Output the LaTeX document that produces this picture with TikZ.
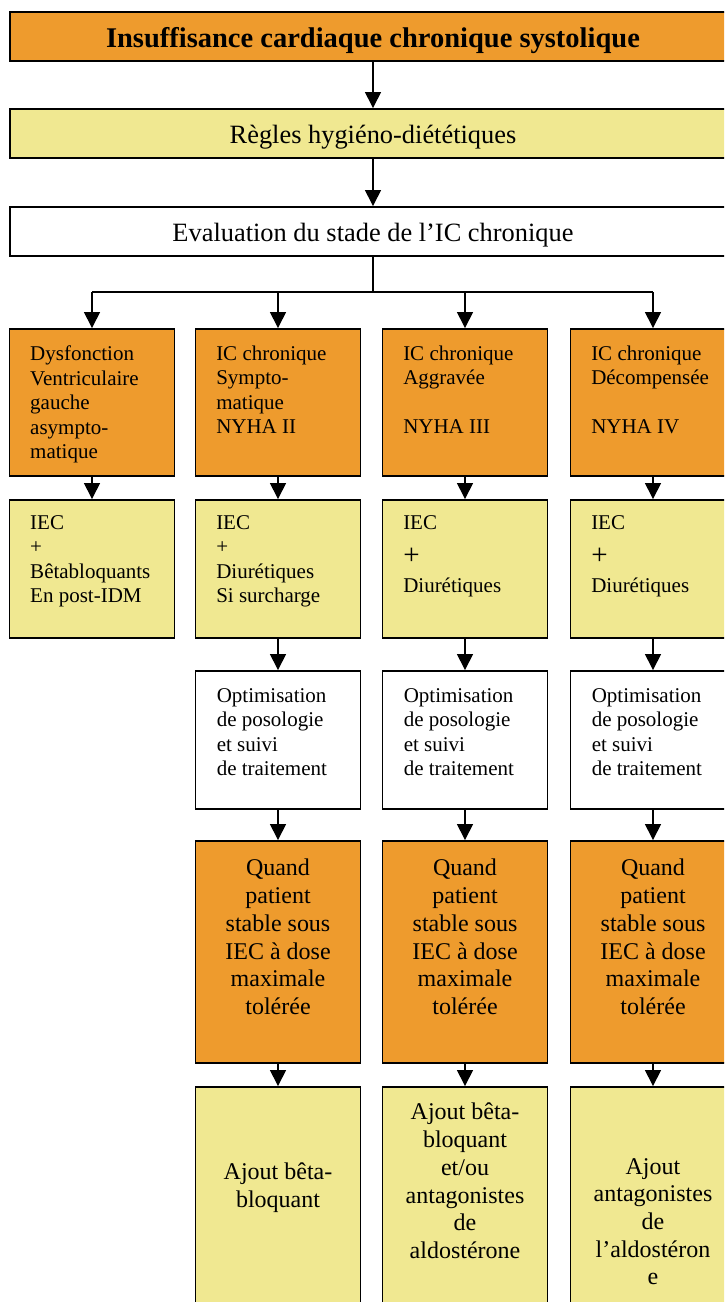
\documentclass[tikz,border=0pt]{standalone}
\usepackage{fontspec}
\setmainfont{Liberation Serif}
\usepackage{tikz}
\usetikzlibrary{arrows.meta, positioning}
\definecolor{icorange}{RGB}{238,155,45}
\definecolor{icyellow}{RGB}{240,232,145}
\tikzstyle{wide} = [draw=black, line width=1.9pt, minimum width=726pt, minimum height=49pt, inner sep=0]
\tikzstyle{cell} = [draw=black, line width=1.9pt, minimum width=165pt, inner sep=0]
\tikzstyle{lefttext} = [inner sep=0, align=left, font=\fontsize{21}{24.5}\selectfont]
\tikzstyle{midtext} = [inner sep=0, align=center, font=\fontsize{24}{27.7}\selectfont]
\tikzstyle{link} = [line width=1.4pt, -{Triangle[width=16pt, length=16pt]}]
\newcommand{\bigplus}{{\fontsize{29}{29}\selectfont +}}

\begin{document}
\begin{tikzpicture}[x=1pt, y=-1pt]
				\useasboundingbox (0, 0) rectangle (724, 1302);
				\clip (0, 0) rectangle (724, 1302);

				% top of the chart
				\node (Title) [wide, fill=icorange] at (373, 36.5) {};
				\node (TitleText) [font=\fontsize{28.5}{30}\selectfont\bfseries] at (373, 40.5) {Insuffisance cardiaque chronique systolique};
				\node (Rules) [wide, fill=icyellow] at (373, 133.5) {};
				\node (RulesText) [font=\fontsize{26.4}{28}\selectfont] at (373, 137.5) {Règles hygiéno-diététiques};
				\draw [link] (Title) -- (Rules);
				\node (Eval) [wide, fill=white] at (373, 231.5) {};
				\node (EvalText) [font=\fontsize{26.4}{28}\selectfont] at (373, 235) {Evaluation du stade de l’IC chronique};
				\draw [link] (Rules) -- (Eval);

				\coordinate (Split) at (373, 292);
				\draw [line width=1.4pt] (Eval) -- (Split);
				\coordinate (AsymIn) at (92, 292);
				\coordinate (SympIn) at (278, 292);
				\coordinate (AggrIn) at (465, 292);
				\coordinate (DecoIn) at (653, 292);
				\draw [line width=1.4pt] (AsymIn) -- (DecoIn);

				% asymptomatic
				\node (Asym) [cell, fill=icorange, minimum height=147pt] at (92, 402.5) {};
				\node (AsymText) [lefttext, below right=17.5pt and 21.5pt of Asym.north west] {Dysfonction\\Ventriculaire\\gauche\\asympto-\\matique};
				\draw [link] (AsymIn) -- (Asym);
				\node (AsymTreat) [cell, fill=icyellow, minimum height=138pt] at (92, 569) {};
				\node (AsymTreatText) [lefttext, below right=16pt and 21.5pt of AsymTreat.north west] {IEC\\+\\Bêtabloquants\\En post-IDM};
				\draw [link] (Asym) -- (AsymTreat);

				% symptomatic
				\node (Symp) [cell, fill=icorange, minimum height=147pt] at (278, 402.5) {};
				\node (SympText) [lefttext, below right=17.5pt and 21.5pt of Symp.north west] {IC chronique\\Sympto-\\matique\\NYHA II};
				\draw [link] (SympIn) -- (Symp);
				\node (SympTreat) [cell, fill=icyellow, minimum height=138pt] at (278, 569) {};
				\node (SympTreatText) [lefttext, below right=16pt and 21.5pt of SympTreat.north west] {IEC\\+\\Diurétiques\\Si surcharge};
				\draw [link] (Symp) -- (SympTreat);
				\node (SympOptim) [cell, fill=white, minimum height=138pt] at (278, 740) {};
				\node (SympOptimText) [lefttext, below right=18pt and 22pt of SympOptim.north west] {Optimisation\\de posologie\\et suivi\\de traitement};
				\draw [link] (SympTreat) -- (SympOptim);
				\node (SympStable) [cell, fill=icorange, minimum height=222pt] at (278, 952) {};
				\node (SympStableText) [midtext, below=19pt of SympStable.north] {Quand\\patient\\stable sous\\IEC à dose\\maximale\\tolérée};
				\draw [link] (SympOptim) -- (SympStable);
				\node (SympAdd) [cell, fill=icyellow, minimum height=260pt] at (278, 1217) {};
				\node (SympAddText) [midtext, below=77pt of SympAdd.north] {Ajout bêta-\\bloquant};
				\draw [link] (SympStable) -- (SympAdd);

				% aggravated
				\node (Aggr) [cell, fill=icorange, minimum height=147pt] at (465, 402.5) {};
				\node (AggrText) [lefttext, below right=17.5pt and 21.5pt of Aggr.north west] {IC chronique\\Aggravée\\[24.5pt]NYHA III};
				\draw [link] (AggrIn) -- (Aggr);
				\node (AggrTreat) [cell, fill=icyellow, minimum height=138pt] at (465, 569) {};
				\node (AggrTreatText) [lefttext, below right=16pt and 21.5pt of AggrTreat.north west] {IEC\\[11pt]\bigplus\\[3pt]Diurétiques};
				\draw [link] (Aggr) -- (AggrTreat);
				\node (AggrOptim) [cell, fill=white, minimum height=138pt] at (465, 740) {};
				\node (AggrOptimText) [lefttext, below right=18pt and 22pt of AggrOptim.north west] {Optimisation\\de posologie\\et suivi\\de traitement};
				\draw [link] (AggrTreat) -- (AggrOptim);
				\node (AggrStable) [cell, fill=icorange, minimum height=222pt] at (465, 952) {};
				\node (AggrStableText) [midtext, below=19pt of AggrStable.north] {Quand\\patient\\stable sous\\IEC à dose\\maximale\\tolérée};
				\draw [link] (AggrOptim) -- (AggrStable);
				\node (AggrAdd) [cell, fill=icyellow, minimum height=260pt] at (465, 1217) {};
				\node (AggrAddText) [midtext, below=17pt of AggrAdd.north] {Ajout bêta-\\bloquant\\et/ou\\antagonistes\\de\\aldostérone};
				\draw [link] (AggrStable) -- (AggrAdd);

				% decompensated
				\node (Deco) [cell, fill=icorange, minimum height=147pt] at (653, 402.5) {};
				\node (DecoText) [lefttext, below right=17.5pt and 21.5pt of Deco.north west] {IC chronique\\Décompensée\\[24.5pt]NYHA IV};
				\draw [link] (DecoIn) -- (Deco);
				\node (DecoTreat) [cell, fill=icyellow, minimum height=138pt] at (653, 569) {};
				\node (DecoTreatText) [lefttext, below right=16pt and 21.5pt of DecoTreat.north west] {IEC\\[11pt]\bigplus\\[3pt]Diurétiques};
				\draw [link] (Deco) -- (DecoTreat);
				\node (DecoOptim) [cell, fill=white, minimum height=138pt] at (653, 740) {};
				\node (DecoOptimText) [lefttext, below right=18pt and 22pt of DecoOptim.north west] {Optimisation\\de posologie\\et suivi\\de traitement};
				\draw [link] (DecoTreat) -- (DecoOptim);
				\node (DecoStable) [cell, fill=icorange, minimum height=222pt] at (653, 952) {};
				\node (DecoStableText) [midtext, below=19pt of DecoStable.north] {Quand\\patient\\stable sous\\IEC à dose\\maximale\\tolérée};
				\draw [link] (DecoOptim) -- (DecoStable);
				\node (DecoAdd) [cell, fill=icyellow, minimum height=260pt] at (653, 1217) {};
				\node (DecoAddText) [midtext, below=72pt of DecoAdd.north] {Ajout\\antagonistes\\de\\l’aldostéron\\e};
				\draw [link] (DecoStable) -- (DecoAdd);
			\end{tikzpicture}
\end{document}
